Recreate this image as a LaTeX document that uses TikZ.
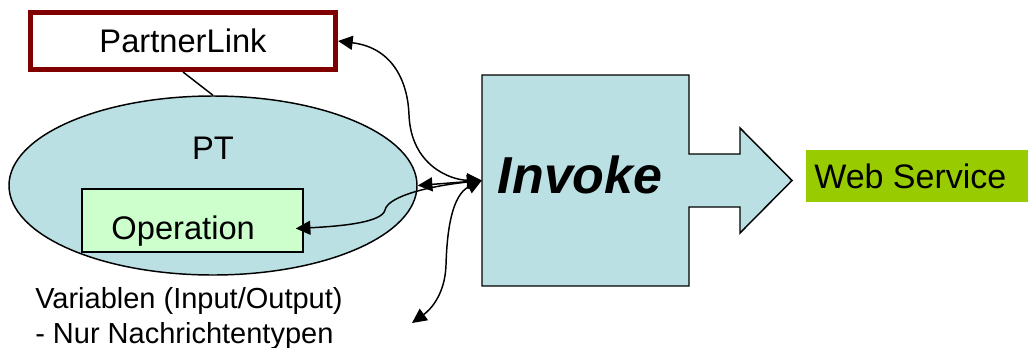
\documentclass[tikz,border=0pt]{standalone}
\usepackage{fontspec}
\setmainfont{Liberation Sans}
\usetikzlibrary{positioning,arrows.meta,shapes.geometric,calc}

\begin{document}
\begin{tikzpicture}[
    x=0.75pt, y=-0.75pt,
    arr/.style={{Triangle[length=11pt,width=10.5pt]}-{Triangle[length=11pt,width=10.5pt]}, line width=1.1pt, black},
    lbl/.style={font=\fontsize{24.5}{28}\selectfont, text=black, text depth=0pt},
    box/.style={draw=black, line width=1.1pt, inner sep=0pt},
  ]
    \definecolor{ptblue}{HTML}{BAE0E3}
    \definecolor{plred}{HTML}{800000}
    \definecolor{opgreen}{HTML}{CCFFCC}
    \definecolor{wsgreen}{HTML}{99CC00}

    \useasboundingbox (0,0) rectangle (1031,347);

    % ===== PartnerLink and port type =====
    \node[box, lbl, draw=plred, line width=3.75pt, fill=white,
      minimum width=228.75pt, minimum height=42.75pt] (plink) at (183,41) {PartnerLink};

    \node[box, ellipse, fill=ptblue, minimum width=306pt, minimum height=134.25pt] (pt) at (213,185.5) {};
    \node[lbl] (ptname) at (213,148) {PT};
    \draw[line width=1.1pt] (plink.south) -- (pt.north);

    \node[box, lbl, fill=opgreen, minimum width=165.75pt, minimum height=47.25pt,
      text height=29pt] (op) at (192.5,220.5) {Operation\kern14pt};

    % ===== Invoke: box with arrow towards the service =====
    \draw[box, fill=ptblue] (482,75) -- (689,75) -- (689,154) -- (740,154) -- (740,128)
      -- (792,180.5) -- (740,233) -- (740,207) -- (689,207) -- (689,286) -- (482,286) -- cycle;
    \node[inner sep=0pt, minimum width=155.25pt, minimum height=158.25pt,
      font=\fontsize{39}{44}\selectfont\bfseries\itshape, text depth=0pt, text height=18.75pt]
      (inv) at (585.5,180.5) {Invoke\kern8pt};

    \node[lbl, font=\fontsize{25.5}{29}\selectfont, fill=wsgreen, inner sep=0pt,
      minimum width=166.5pt, minimum height=39pt] (ws) at (917,176) {Web Service\kern10pt};

    % ===== variables =====
    \node[font=\fontsize{21.75}{26.25}\selectfont, align=left, anchor=base west, inner sep=0pt]
      (vars) at (35,343) {Variablen (Input/Output)\\- Nur Nachrichtentypen};
    \coordinate (varend) at (412,323);

    % ===== connections into Invoke =====
    \draw[arr] (plink.east) .. controls (395,48) and (408,85) .. (409,115)
      .. controls (411,165) and (450,180) .. (inv.west);
    \draw[arr] (pt.east) -- (inv.west);
    \draw[arr] ($(op.east)+(-8,8)$) .. controls (345,226) and (382,222) .. (385,210)
      .. controls (388,196) and (430,186) .. (inv.west);
    \draw[arr] (inv.west) .. controls (452,195) and (447,230) .. (446,265)
      .. controls (445,295) and (430,310) .. (varend);

  \end{tikzpicture}
\end{document}
